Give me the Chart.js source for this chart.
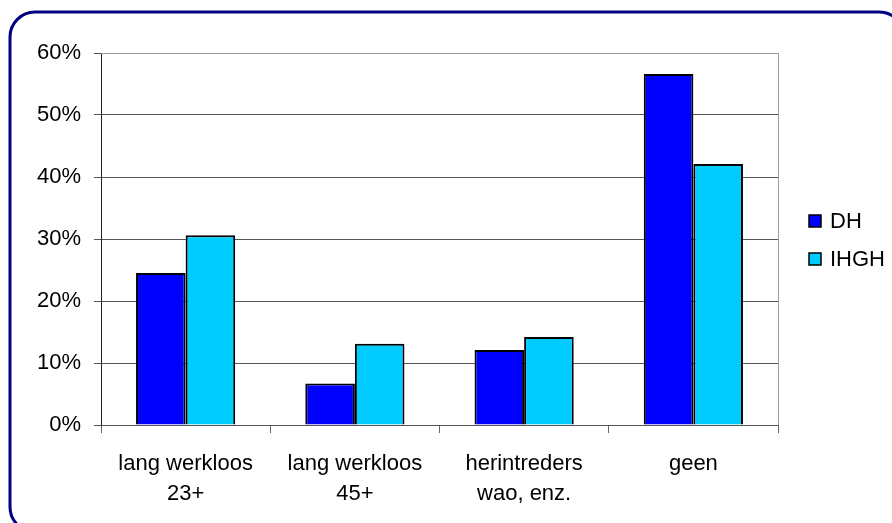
<!DOCTYPE html>
<html>
<head>
<meta charset="utf-8">
<title>Doelgroepen DH / IHGH</title>
<script src="https://cdn.jsdelivr.net/npm/chart.js@4/dist/chart.umd.min.js"></script>
<style>
  body { margin: 0; background: #fff; }
  #wrap { width: 892px; height: 523px; position: relative; }
</style>
</head>
<body>
<div id="wrap"><canvas id="barChart"></canvas></div>
<script>
// Categories (two-line labels) and percentages per group
var categories = [
  ['lang werkloos', '23+'],
  ['lang werkloos', '45+'],
  ['herintreders', 'wao, enz.'],
  ['geen']
];
var dhValues = [24.5, 6.7, 12.1, 56.6];
var ihghValues = [30.6, 13.1, 14.2, 42.1];
var seriesNames = ['DH', 'IHGH'];
var seriesColors = ['#0000ff', '#00ccff'];
var yTicks = [0, 10, 20, 30, 40, 50, 60];

var FONT = 'Arial, "Liberation Sans", sans-serif';

// Rounded navy frame, plot border and the legend on the right
var framePlugin = {
  id: 'frame',
  beforeDraw: function(chart) {
    var ctx = chart.ctx;
    ctx.save();
    ctx.fillStyle = '#fff';
    ctx.fillRect(0, 0, chart.width, chart.height);
    ctx.beginPath();
    ctx.roundRect(10, 12, 894, 520, 25);
    ctx.lineWidth = 3;
    ctx.strokeStyle = '#000080';
    ctx.stroke();
    ctx.restore();
  },
  beforeDatasetsDraw: function(chart) {
    var a = chart.chartArea;
    var ctx = chart.ctx;
    ctx.save();
    ctx.strokeStyle = '#999';
    ctx.lineWidth = 1;
    ctx.beginPath();
    ctx.moveTo(a.left, a.top + 0.5);
    ctx.lineTo(a.right + 0.5, a.top + 0.5);
    ctx.lineTo(a.right + 0.5, a.bottom);
    ctx.stroke();
    ctx.restore();
  },
  afterDraw: function(chart) {
    var ctx = chart.ctx;
    ctx.save();
    ctx.font = '22px ' + FONT;
    ctx.textBaseline = 'middle';
    chart.data.datasets.forEach(function(ds, i) {
      var y = 221 + i * 38;
      ctx.fillStyle = ds.backgroundColor;
      ctx.fillRect(809, y - 6, 12, 12);
      ctx.strokeStyle = '#000';
      ctx.lineWidth = 1.5;
      ctx.strokeRect(809, y - 6, 12, 12);
      ctx.fillStyle = '#000';
      ctx.fillText(ds.label, 830, y + 1);
    });
    ctx.restore();
  }
};

var ctx = document.getElementById('barChart').getContext('2d');
var barChart = new Chart(ctx, {
  type: 'bar',
  data: {
    labels: categories,
    datasets: [
      {
        label: seriesNames[0],
        data: dhValues,
        backgroundColor: seriesColors[0],
        borderColor: '#000',
        borderWidth: 2
      },
      {
        label: seriesNames[1],
        data: ihghValues,
        backgroundColor: seriesColors[1],
        borderColor: '#000',
        borderWidth: 2
      }
    ]
  },
  options: {
    responsive: true,
    maintainAspectRatio: false,
    animation: false,
    events: [],
    layout: { padding: { top: 53, right: 114, left: 0, bottom: 0 } },
    datasets: {
      bar: { categoryPercentage: 0.586, barPercentage: 1 }
    },
    plugins: {
      legend: { display: false },
      tooltip: { enabled: false }
    },
    scales: {
      x: {
        offset: true,
        grid: {
          offset: true,
          drawOnChartArea: false,
          drawTicks: true,
          tickLength: 8,
          color: '#666'
        },
        border: { color: '#555', width: 1 },
        ticks: {
          color: '#000',
          padding: 16,
          maxRotation: 0,
          autoSkip: false,
          font: { family: FONT, size: 22, lineHeight: 1.36 }
        },
        afterFit: function(scale) { scale.height = 98; }
      },
      y: {
        min: 0,
        max: 60,
        afterBuildTicks: function(scale) {
          scale.ticks = yTicks.map(function(v) { return { value: v }; });
        },
        grid: {
          color: '#555',
          tickLength: 7
        },
        border: { color: '#222', width: 1 },
        ticks: {
          color: '#000',
          padding: 13,
          font: { family: FONT, size: 22 },
          callback: function(v) { return v + '%'; }
        },
        afterFit: function(scale) { scale.width = 101; }
      }
    }
  },
  plugins: [framePlugin]
});
</script>
</body>
</html>
